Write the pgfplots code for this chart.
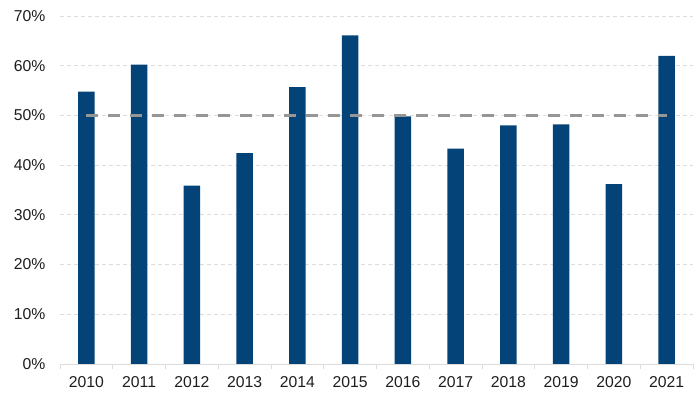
\documentclass[border=0pt]{standalone}
\usepackage{fontspec}
\setmainfont{Liberation Sans}
\usepackage{pgfplots}
\pgfplotsset{compat=1.18}
\definecolor{barblue}{RGB}{4,67,119}
\definecolor{gridgray}{RGB}{220,220,220}
\definecolor{refgray}{RGB}{150,150,150}
\definecolor{txt}{RGB}{30,30,30}
\begin{document}
\begin{tikzpicture}
\begin{axis}[
  scale only axis,
  width=633bp, height=348bp,
  xmin=-0.5, xmax=11.5,
  ymin=0, ymax=70,
  ytick={0,10,...,70},
  xtick={0,...,11},
  xticklabels={2010,2011,2012,2013,2014,2015,2016,2017,2018,2019,2020,2021},
  minor xtick={-0.5,0.5,...,11.5},
  axis x line*=bottom,
  axis y line*=left,
  x axis line style={draw=gridgray, line width=0.8bp},
  y axis line style={draw=none},
  ytick style={draw=none},
  major x tick style={draw=none},
  minor x tick style={draw=gridgray, line width=0.8bp},
  tick align=outside,
  minor tick length=5bp,
  major tick length=0pt,
  ymajorgrids,
  major grid style={draw=gridgray, line width=0.8bp, dash pattern=on 4bp off 3bp},
  /pgf/number format/assume math mode=true,
  yticklabel={\pgfmathprintnumber{\tick}\%},
  tick label style={font=\fontsize{15.8}{18}\selectfont, text=txt},
  yticklabel style={xshift=-11bp},
  xticklabel style={yshift=-9bp},
  ybar, bar width=16.5bp,
  clip=false,
]
\addplot[fill=barblue, draw=none] coordinates {
  (0,54.8) (1,60.2) (2,35.9) (3,42.4) (4,55.7) (5,66.1)
  (6,49.8) (7,43.3) (8,48.0) (9,48.2) (10,36.2) (11,62.0)
};
\addplot[sharp plot, draw=refgray, line width=3bp, dash pattern=on 11.5bp off 10.5bp] coordinates {(0,50) (11,50)};
\end{axis}
\pgfresetboundingbox
\path ([xshift=-60bp,yshift=-32bp]current axis.south west) rectangle ([xshift=6bp,yshift=16bp]current axis.north east);
\end{tikzpicture}
\end{document}
